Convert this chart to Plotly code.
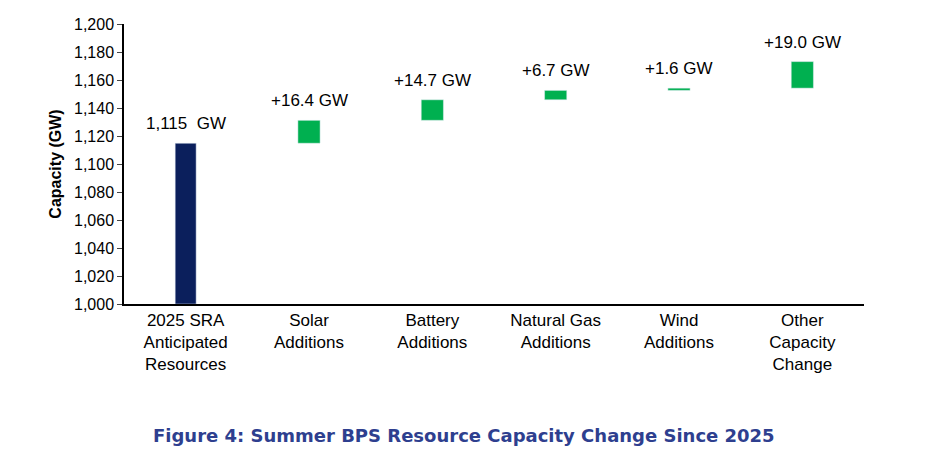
import plotly.graph_objects as go

categories = ["2025 SRA<br>Anticipated<br>Resources", "Solar<br>Additions", "Battery<br>Additions",
              "Natural Gas<br>Additions", "Wind<br>Additions", "Other<br>Capacity<br>Change"]
start_value = 1115
changes = [16.4, 14.7, 6.7, 1.6, 19.0]
labels = ["1,115  GW", "+16.4 GW", "+14.7 GW", "+6.7 GW", "+1.6 GW", "+19.0 GW"]
y_ticks = list(range(1000, 1201, 20))

bases = [1000]
heights = [start_value - 1000]
level = start_value
for c in changes:
    bases.append(level)
    heights.append(c)
    level += c
tops = [b + h for b, h in zip(bases, heights)]

colors = ["#0B1F5C"] + ["#00B050"] * len(changes)

fig = go.Figure()
fig.add_trace(go.Bar(
    x=categories, y=heights, base=bases, width=[0.17] + [0.18] * 5,
    marker_color=colors,
))

annotations = [dict(x=c, y=t, text=l, showarrow=False, yanchor="bottom", yshift=8,
                    font=dict(size=17, color="black"))
               for c, t, l in zip(categories, tops, labels)]
annotations.append(dict(text="<b>Figure 4: Summer BPS Resource Capacity Change Since 2025</b>",
                        x=0.46, xref="paper", y=-0.47, yref="paper", yanchor="middle",
                        showarrow=False, font=dict(family="DejaVu Sans", size=18, color="#2E3F8F")))

fig.update_layout(
    width=928, height=472, margin=dict(l=116, r=72, t=8, b=176),
    plot_bgcolor="white", paper_bgcolor="white", showlegend=False,
    font=dict(family="Liberation Sans", color="black"),
    annotations=annotations,
)
fig.update_xaxes(showline=True, linecolor="black", linewidth=1.5, tickfont=dict(size=17),
                 ticks="", showgrid=False)
fig.update_yaxes(range=[1000, 1200.3], tickvals=y_ticks, tickformat=",", showline=True,
                 linecolor="black", linewidth=1.5, ticks="outside", ticklen=5, showgrid=False,
                 tickfont=dict(size=16),
                 title=dict(text="<b>Capacity (GW)</b>", font=dict(size=16), standoff=8))

fig.write_html("out.html")
